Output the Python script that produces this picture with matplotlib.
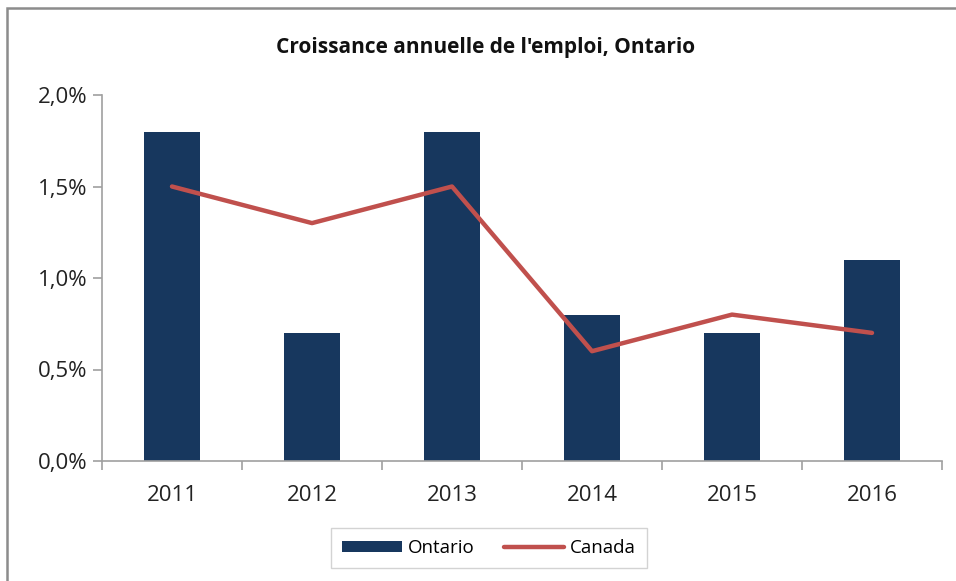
import numpy as np
import matplotlib.pyplot as plt
from matplotlib.patches import Rectangle
from matplotlib.ticker import FuncFormatter

years = ['2011', '2012', '2013', '2014', '2015', '2016']
ontario = [1.8, 0.7, 1.8, 0.8, 0.7, 1.1]
canada = [1.5, 1.3, 1.5, 0.6, 0.8, 0.7]

plt.rcParams['font.family'] = ['Open Sans', 'DejaVu Sans']

fig = plt.figure(figsize=(9.56, 5.81), dpi=100)
fig.patches.append(Rectangle((7 / 956, -0.05), 1.2, 1 - 8 / 581 + 0.05, transform=fig.transFigure,
                             fill=False, edgecolor='#8c8c8c', linewidth=1.8))

ax = fig.add_axes([102 / 956, 1 - 461 / 581, 840 / 956, 366 / 581])
x = np.arange(len(years))
bars = ax.bar(x, ontario, width=0.4, color='#17375E', label='Ontario', zorder=2)
line, = ax.plot(x, canada, color='#C0504D', linewidth=3.2, solid_capstyle='round', label='Canada', zorder=3)

ax.set_xlim(-0.5, len(years) - 0.5)
ax.set_ylim(0, 2.0)
ax.set_yticks([0, 0.5, 1.0, 1.5, 2.0])
ax.yaxis.set_major_formatter(FuncFormatter(lambda v, p: f'{v:.1f}%'.replace('.', ',')))
ax.set_xticks(x)
ax.set_xticklabels(years)
ax.set_xticks(np.arange(-0.5, len(years)), minor=True)
ax.tick_params(axis='x', which='major', length=0, pad=17, labelsize=16, labelcolor='#222222')
ax.tick_params(axis='x', which='minor', length=6.5, color='#a0a0a0', width=1.2)
ax.tick_params(axis='y', length=6.5, color='#a0a0a0', width=1.2, pad=4, labelsize=16, labelcolor='#222222')

for s in ['top', 'right']:
    ax.spines[s].set_visible(False)
for s in ['left', 'bottom']:
    ax.spines[s].set_color('#a0a0a0')
    ax.spines[s].set_linewidth(1.2)

fig.text(486 / 956, 1 - 47 / 581, "Croissance annuelle de l'emploi, Ontario", ha='center', va='center',
         fontsize=15, fontweight='bold', color='#111111')

leg = fig.legend([bars, line], ['Ontario', 'Canada'], loc='center', bbox_to_anchor=(489 / 956, 1 - 548 / 581),
                 ncol=2, fontsize=13.5, frameon=True, fancybox=False, edgecolor='#c8c8c8',
                 handlelength=3.2, handleheight=0.5, handletextpad=0.3, columnspacing=1.6, borderpad=0.6)
leg.get_frame().set_linewidth(1.0)

fig.savefig('out.png', dpi=100)
